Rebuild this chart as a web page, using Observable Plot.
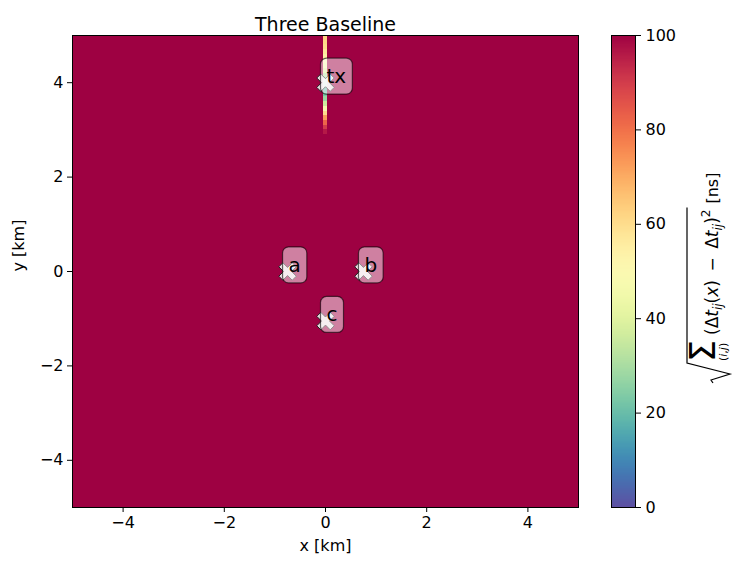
<!DOCTYPE html>
<html>
<head>
<meta charset="utf-8">
<script src="https://cdn.jsdelivr.net/npm/d3@7"></script>
<script src="https://cdn.jsdelivr.net/npm/@observablehq/plot@0.6"></script>
<style>
  body { margin: 0; background: white; }
  #wrap { position: relative; width: 734px; height: 561px; }
  #wrap svg { position: absolute; left: 0; top: 0; }
</style>
</head>
<body>
<div id="wrap"></div>
<script>
// ---------- data ----------
const titleText = "Three Baseline";
const xLabel = "x [km]";
const yLabel = "y [km]";
const xDomain = [-5, 5];
const yDomain = [-5, 5];
const xTicks = [-4, -2, 0, 2, 4];
const yTicks = [-4, -2, 0, 2, 4];
const colorDomain = [0, 100];
const colorTicks = [0, 20, 40, 60, 80, 100];
const backgroundValue = 100;            // residual everywhere (clipped at 100)
const stripX = [-0.03, 0.03];           // the thin column of low residual at x = 0
const stripCellHeight = 0.1;
const stripYTop = [5.0, 4.9, 4.8, 4.7, 4.6, 4.5, 4.4, 4.3, 4.2, 4.1, 4.0, 3.9, 3.8, 3.7, 3.6, 3.5, 3.4, 3.3, 3.2, 3.1, 3.0];
const stripValue = [62, 61, 60, 57, 54, 50, 46, 40, 32, 26, 22, 20, 22, 28, 36, 48, 60, 72, 82, 90, 96];
const stationNames = ["tx", "a", "b", "c"];
const stationX = [0, -0.75, 0.75, 0];
const stationY = [4, 0, 0, -1.05];

// ---------- build tables ----------
const cells = [{x1: xDomain[0], x2: xDomain[1], y1: yDomain[0], y2: yDomain[1], v: backgroundValue}]
  .concat(stripYTop.map((t, i) => ({x1: stripX[0], x2: stripX[1], y1: t - stripCellHeight, y2: t, v: stripValue[i]})));
const stations = stationNames.map((n, i) => ({name: n, x: stationX[i], y: stationY[i]}));
const colorOpts = {type: "linear", scheme: "spectral", reverse: true, domain: colorDomain};

// filled "X" marker like matplotlib's 'X'
const xFilled = {
  draw(ctx, size) {
    const L = Math.sqrt(size / Math.PI), w = L * 0.3;
    const pts = [[w, L], [w, w], [L, w], [L, -w], [w, -w], [w, -L], [-w, -L], [-w, -w], [-L, -w], [-L, w], [-w, w], [-w, L]];
    const c = Math.SQRT1_2;
    pts.forEach(([px, py], i) => {
      const rx = (px - py) * c, ry = (px + py) * c;
      if (i === 0) ctx.moveTo(rx, ry); else ctx.lineTo(rx, ry);
    });
    ctx.closePath();
  }
};

const font = "DejaVu Sans";
const wrap = document.getElementById("wrap");

const main = Plot.plot({
  width: 734, height: 561,
  marginLeft: 72, marginRight: 156, marginTop: 35, marginBottom: 54,
  style: {fontFamily: font, fontSize: "16px", background: "white", color: "black", overflow: "visible"},
  x: {domain: xDomain},
  y: {domain: yDomain},
  color: colorOpts,
  marks: [
    Plot.rect(cells, {x1: "x1", x2: "x2", y1: "y1", y2: "y2", fill: "v", shapeRendering: "crispEdges"}),
    Plot.frame({stroke: "black", strokeWidth: 1}),
    Plot.axisX(xTicks, {tickSize: 5, tickPadding: 4, label: null, tickFormat: d3.format("d"), fontSize: 16}),
    Plot.axisY(yTicks, {tickSize: 5, tickPadding: 4, label: null, tickFormat: d3.format("d"), fontSize: 16}),
    Plot.dot(stations, {x: "x", y: "y", symbol: xFilled, r: 9.5, fill: "#f4f4f4", fillOpacity: 0.9, stroke: "#222", strokeWidth: 1}),
    Plot.text(stations, {x: "x", y: "y", text: "name", textAnchor: "start", dx: 1, dy: -6, fontSize: 20, fill: "black"}),
    Plot.text([titleText], {text: d => d, frameAnchor: "top", dy: -18, fontSize: 19}),
    Plot.text([xLabel], {text: d => d, frameAnchor: "bottom", dy: 43, fontSize: 16}),
    Plot.text([yLabel], {text: d => d, frameAnchor: "left", dx: -54, rotate: -90, fontSize: 16})
  ]
});
wrap.appendChild(main);

// rounded label boxes behind station texts (matplotlib bbox style)
{
  const pad = 6;
  Array.from(main.querySelectorAll("text"))
    .filter(t => stationNames.includes(t.textContent))
    .forEach(t => {
      const bb = t.getBBox();
      const r = document.createElementNS("http://www.w3.org/2000/svg", "rect");
      r.setAttribute("x", bb.x - pad);
      r.setAttribute("y", bb.y - pad);
      r.setAttribute("width", bb.width + 2 * pad);
      r.setAttribute("height", bb.height + 2 * pad);
      r.setAttribute("rx", pad);
      r.setAttribute("fill", "white");
      r.setAttribute("fill-opacity", 0.5);
      r.setAttribute("stroke", "black");
      r.setAttribute("stroke-opacity", 0.6);
      r.setAttribute("stroke-width", 1.2);
      const tr = t.getAttribute("transform");
      if (tr) r.setAttribute("transform", tr);
      t.parentNode.insertBefore(r, t);
    });
}

// ---------- colorbar ----------
const ramp = d3.range(colorDomain[0], colorDomain[1], 0.25);
const cb = Plot.plot({
  width: 734, height: 561,
  marginLeft: 611, marginRight: 99, marginTop: 35, marginBottom: 54,
  style: {fontFamily: font, fontSize: "16px", background: "transparent", color: "black", overflow: "visible"},
  x: {domain: [0, 1], axis: null},
  y: {domain: colorDomain, axis: null},
  color: colorOpts,
  marks: [
    Plot.rect(ramp, {x1: d => 0, x2: d => 1, y1: d => d, y2: d => Math.min(d + 0.5, colorDomain[1]), fill: d => d + 0.125, shapeRendering: "crispEdges"}),
    Plot.frame({stroke: "black", strokeWidth: 1}),
    Plot.axisY(colorTicks, {anchor: "right", tickSize: 5, tickPadding: 5, label: null, tickFormat: d3.format("d"), fontSize: 16})
  ]
});
wrap.appendChild(cb);

// colorbar label: sqrt( sum_{(i,j)} (Δt_ij(x) − Δt_ij)^2 ) [ns], rotated
{
  const g = d3.select(cb).append("g")
    .attr("transform", "translate(718,383) rotate(-90)")
    .attr("font-family", font).attr("fill", "black").attr("text-anchor", "start");
  g.append("text").attr("x", 21).attr("y", -3).attr("font-size", 35).text("Σ");
  g.append("text").attr("x", 22).attr("y", 9).attr("font-size", 11)
    .html("(<tspan font-style='italic'>i</tspan>,<tspan font-style='italic'>j</tspan>)");
  const expr = g.append("text").attr("x", 48).attr("y", 0).attr("font-size", 17)
    .html("(Δ<tspan font-style='italic'>t</tspan><tspan font-style='italic' font-size='12' dy='4'>ij</tspan>" +
          "<tspan dy='-4'>(</tspan><tspan font-style='italic'>x</tspan>)\u2002−\u2002Δ<tspan font-style='italic'>t</tspan>" +
          "<tspan font-style='italic' font-size='12' dy='4'>ij</tspan><tspan dy='-4'>)</tspan>" +
          "<tspan font-size='12' dy='-8'>2</tspan>");
  const end = 48 + expr.node().getComputedTextLength();
  g.append("path")
    .attr("d", `M0,-5L3,-7L9,12L20,-31H${end + 2}`)
    .attr("fill", "none").attr("stroke", "black").attr("stroke-width", 1.2);
  g.append("text").attr("x", end + 6).attr("y", 0).attr("font-size", 16).text("[ns]");
}
</script>
</body>
</html>
